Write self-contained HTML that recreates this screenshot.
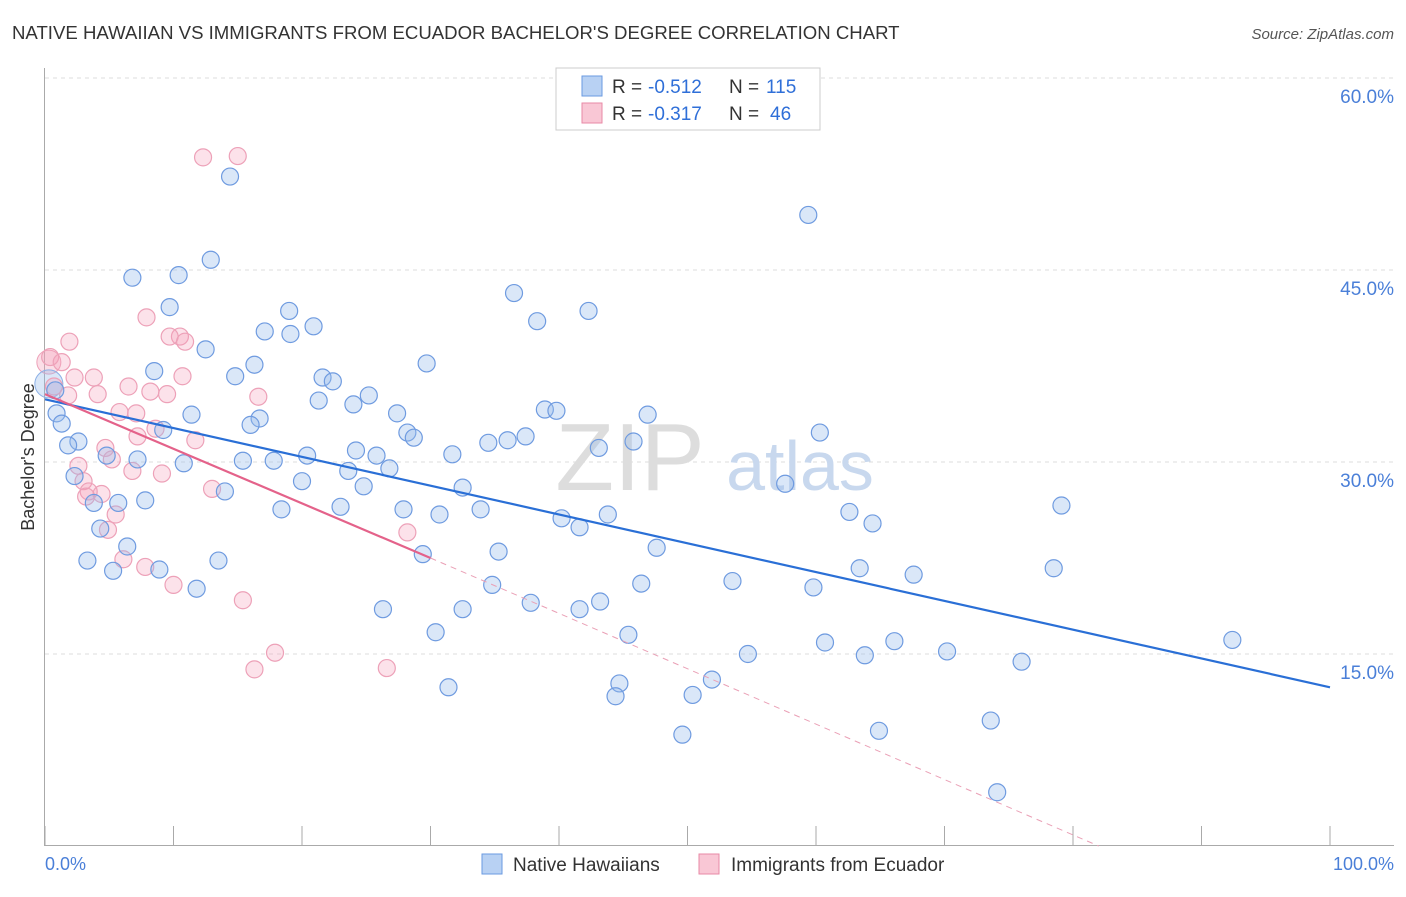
<!DOCTYPE html>
<html><head><meta charset="utf-8"><style>
body{margin:0;background:#fff;font-family:"Liberation Sans",sans-serif;}
svg text{font-family:"Liberation Sans",sans-serif;}
</style></head><body>
<svg id="chart" width="1406" height="892">
<text x="12" y="39" font-size="18.6" fill="#333">NATIVE HAWAIIAN VS IMMIGRANTS FROM ECUADOR BACHELOR'S DEGREE CORRELATION CHART</text>
<text x="1394" y="39" font-size="15" fill="#555" font-style="italic" text-anchor="end">Source: ZipAtlas.com</text>
<g id="grid"></g>
<text x="630" y="490" font-size="96" fill="#ddd" font-family="Liberation Serif" text-anchor="middle">ZIP</text>
<text x="800" y="490" font-size="70" fill="#c8d8ee" text-anchor="middle">atlas</text>
<text transform="translate(34,457) rotate(-90)" font-size="18" fill="#333" text-anchor="middle">Bachelor's Degree</text>
<g id="pts"></g>
<g id="lines"></g>
<g>
<rect x="556" y="68" width="264" height="62" fill="#fff" stroke="#ccc"/>
<rect x="582" y="76" width="20" height="20" fill="#b8d1f3" stroke="#6a9ae0"/>
<rect x="582" y="103" width="20" height="20" fill="#f9c7d5" stroke="#e88aa6"/>
<text x="612" y="93" font-size="19" fill="#333">R =</text>
<text x="648" y="93" font-size="19" fill="#2f6fd8">-0.512</text>
<text x="729" y="93" font-size="19" fill="#333">N =</text>
<text x="766" y="93" font-size="19" fill="#2f6fd8">115</text>
<text x="612" y="120" font-size="19" fill="#333">R =</text>
<text x="648" y="120" font-size="19" fill="#2f6fd8">-0.317</text>
<text x="729" y="120" font-size="19" fill="#333">N =</text>
<text x="770" y="120" font-size="19" fill="#2f6fd8">46</text>
</g>
<g>
<rect x="482" y="854" width="20" height="20" fill="#b8d1f3" stroke="#6a9ae0"/>
<text x="513" y="871" font-size="19" fill="#333">Native Hawaiians</text>
<rect x="699" y="854" width="20" height="20" fill="#f9c7d5" stroke="#e88aa6"/>
<text x="731" y="871" font-size="19" fill="#333">Immigrants from Ecuador</text>
</g>
<text x="45" y="870" font-size="18" fill="#4a7fd8">0.0%</text>
<text x="1394" y="870" font-size="18" fill="#4a7fd8" text-anchor="end">100.0%</text>
</svg>
<script>
const yTicks=[15,30,45,60];
const yTickLabels=["15.0%","30.0%","45.0%","60.0%"];
const bluePx=[[230,177],[808,215],[211,260],[133,278],[179,275],[514,293],[588,311],[170,307],[289,311],[537,321],[313,326],[265,332],[291,334],[205,349],[427,364],[154,371],[255,365],[235,376],[323,377],[333,381],[369,396],[319,400],[353,404],[545,410],[556,411],[648,415],[397,414],[191,415],[260,419],[250,425],[820,433],[407,432],[414,438],[163,430],[488,443],[508,440],[525,437],[633,442],[599,448],[356,450],[452,454],[377,455],[307,456],[243,461],[274,461],[184,463],[348,471],[390,468],[302,481],[462,487],[364,486],[225,492],[785,484],[282,509],[340,507],[404,509],[480,509],[439,515],[562,518],[608,514],[580,527],[850,512],[872,523],[1062,506],[657,548],[498,552],[423,554],[860,568],[1054,568],[914,575],[732,581],[641,583],[492,585],[814,587],[600,601],[531,603],[383,609],[463,609],[580,609],[628,635],[436,632],[825,643],[894,641],[748,654],[865,655],[947,652],[1022,662],[1232,640],[620,684],[615,696],[449,687],[712,679],[693,695],[991,721],[879,731],[682,735],[997,792],[55,390],[57,413],[62,423],[79,442],[68,446],[75,476],[94,503],[100,528],[88,560],[113,571],[127,546],[118,503],[145,501],[137,460],[107,456],[160,569],[197,589],[218,561]];
const pinkPx=[[203,157],[238,156],[147,317],[180,336],[170,336],[185,342],[69,342],[50,357],[62,362],[74,378],[94,378],[128,387],[151,392],[167,394],[182,376],[54,387],[68,395],[98,394],[258,397],[120,412],[136,413],[155,429],[138,437],[195,440],[105,448],[112,459],[79,466],[162,474],[132,471],[83,481],[89,492],[101,494],[212,489],[86,497],[116,515],[108,530],[408,532],[124,559],[145,567],[173,585],[243,600],[275,653],[254,669],[387,668]];
const blueX=bluePx.map(p=>+((p[0]-45)/12.85).toFixed(1)), blueY=bluePx.map(p=>+((846-p[1])/12.8).toFixed(1));
const pinkX=pinkPx.map(p=>+((p[0]-45)/12.85).toFixed(1)), pinkY=pinkPx.map(p=>+((846-p[1])/12.8).toFixed(1));
const blueTrend=[[0,34.9],[100,12.4]];
const pinkTrend=[[0,35.3],[30,22.5],[82,0]];
const X=v=>45+v*12.85, Y=v=>846-v*12.8;
const NS="http://www.w3.org/2000/svg";
function mk(t,a,p){const e=document.createElementNS(NS,t);for(const k in a)e.setAttribute(k,a[k]);p.appendChild(e);return e;}
const g=document.getElementById('grid');
yTicks.forEach((t,i)=>{const l=mk('line',{x1:45,x2:1394,y1:Y(t),y2:Y(t),stroke:'#ddd','stroke-dasharray':'4,4'},g);


const tx=mk('text',{x:1394,y:Y(t)+25,'font-size':19,fill:'#4a7fd8','text-anchor':'end'},g);tx.textContent=yTickLabels[i];

});
mk('line',{x1:44.5,x2:44.5,y1:68,y2:846,stroke:'#aaa'},g);
mk('line',{x1:45,x2:1394,y1:845.5,y2:845.5,stroke:'#aaa'},g);
for(let i=0;i<=10;i++){const t=mk('line',{x1:X(i*10),x2:X(i*10),y1:826,y2:846,stroke:'#aaa'},g);

}
const pg=document.getElementById('pts');
const big1=mk('circle',{cx:X(0.3),cy:Y(37.8),r:12,fill:'rgba(244,160,185,0.35)',stroke:'#eda1b8'},pg);


const big2=mk('circle',{cx:X(0.3),cy:Y(36.1),r:14,fill:'rgba(150,185,235,0.35)',stroke:'#8cb0e6'},pg);


pinkX.forEach((x,i)=>{const c=mk('circle',{cx:X(x),cy:Y(pinkY[i]),r:8.5,fill:'rgba(244,160,185,0.3)',stroke:'#eda1b8','stroke-width':1.2},pg);

});
blueX.forEach((x,i)=>{const c=mk('circle',{cx:X(x),cy:Y(blueY[i]),r:8.5,fill:'rgba(150,185,235,0.35)',stroke:'#6f9be0','stroke-width':1.2},pg);

});
const lg=document.getElementById('lines');
const bl=mk('line',{x1:X(blueTrend[0][0]),y1:Y(blueTrend[0][1]),x2:X(blueTrend[1][0]),y2:Y(blueTrend[1][1]),stroke:'#2a6fd6','stroke-width':2.2},lg);


const pl=mk('line',{x1:X(pinkTrend[0][0]),y1:Y(pinkTrend[0][1]),x2:X(pinkTrend[1][0]),y2:Y(pinkTrend[1][1]),stroke:'#e4628a','stroke-width':2.2},lg);


const pd=mk('line',{x1:X(pinkTrend[1][0]),y1:Y(pinkTrend[1][1]),x2:X(pinkTrend[2][0]),y2:Y(pinkTrend[2][1]),stroke:'#eaa0b6','stroke-width':1,'stroke-dasharray':'6,5'},lg);


</script>
</body></html>
